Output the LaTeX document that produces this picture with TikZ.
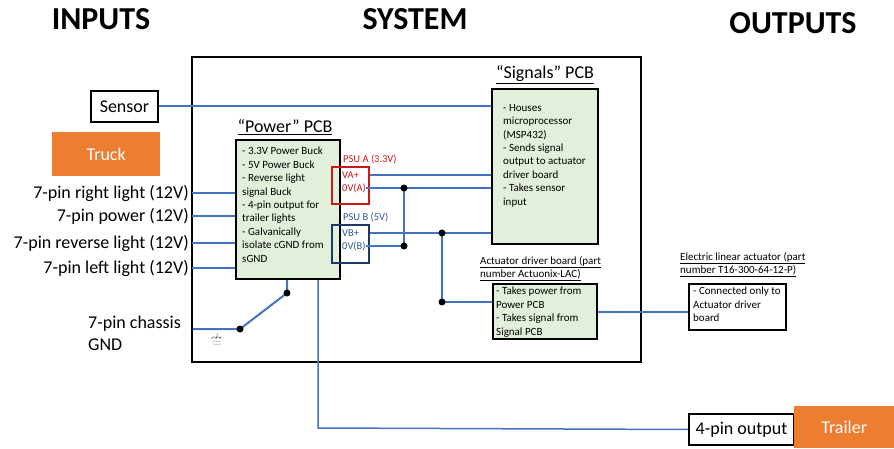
\documentclass[tikz,border=0pt]{standalone}
\usepackage{fontspec}
\setmainfont{Carlito}
\definecolor{wireblue}{HTML}{4472C4}
\definecolor{pcbgreen}{HTML}{E2EFDA}
\definecolor{boxorange}{HTML}{ED7D31}
\definecolor{psured}{HTML}{D01818}
\definecolor{psunavy}{HTML}{1F3864}
\definecolor{psutext}{HTML}{2F5597}
\begin{document}
\begin{tikzpicture}[x=1pt,y=-1pt,
  wire/.style={draw=wireblue,line width=2pt},
  thinwire/.style={draw=wireblue,line width=1.5pt},
  blackbox/.style={draw=black,line width=2pt,inner sep=0pt,anchor=north west},
  pcb/.style={blackbox,fill=pcbgreen},
  orangebox/.style={fill=boxorange,inner sep=0pt,anchor=north west,text=white,font=\fontsize{18}{21}\selectfont},
  bigtitle/.style={font=\bfseries\fontsize{32}{36}\selectfont},
  pcbtitle/.style={font=\fontsize{18}{21}\selectfont,inner sep=0pt},
  boxtext/.style={font=\fontsize{11}{13.4}\selectfont,align=left,inner sep=0pt,anchor=north west},
  smalltitle/.style={font=\fontsize{11}{13.5}\selectfont,align=left,inner sep=0pt,anchor=north west},
  inlabel/.style={font=\fontsize{18}{21}\selectfont,inner sep=0pt,anchor=east},
  psulabel/.style={font=\fontsize{10.5}{12}\selectfont,inner sep=0pt,anchor=west},
  jdot/.style={circle,fill=black,inner sep=0pt,minimum size=7pt}]
\useasboundingbox (0,0) rectangle (894,449);

% titles
\node[bigtitle] (tin) at (101,19) {INPUTS};
\node[bigtitle] (tsys) at (415,19) {SYSTEM};
\node[bigtitle] (tout) at (793,23) {OUTPUTS};

% system box
\node[blackbox,minimum width=449pt,minimum height=305pt] (sys) at (191,56) {};

% input side
\node[blackbox,minimum width=67pt,minimum height=31pt] (sensor) at (90,90) {};
\node[font=\fontsize{18}{21}\selectfont] (sensortxt) at (sensor.center) {Sensor};
\node[orangebox,minimum width=108pt,minimum height=44pt] (truck) at (52,132) {Truck};

\node[inlabel] (l1) at (189,193) {7-pin right light (12V)};
\node[inlabel] (l2) at (189,216) {7-pin power (12V)};
\node[inlabel] (l3) at (189,243) {7-pin reverse light (12V)};
\node[inlabel] (l4) at (189,268) {7-pin left light (12V)};
\node[font=\fontsize{18}{21.5}\selectfont,align=left,inner sep=0pt,anchor=north west] (chassis) at (88,316) {7-pin chassis\\GND};

% Power PCB
\node[pcb,minimum width=104pt,minimum height=139pt] (power) at (235,139) {};
\node[pcbtitle] (powertitle) at (285,127) {\underline{“Power” PCB}};
\node[boxtext] (powertxt) at (242,147) {- 3.3V Power Buck\\- 5V Power Buck\\- Reverse light\\signal Buck\\- 4-pin output for\\trailer lights\\- Galvanically\\isolate cGND from\\sGND};

% PSU boxes
\node[draw=psured,line width=2pt,inner sep=0pt,anchor=north west,minimum width=37pt,minimum height=37pt] (psua) at (331,166) {};
\node[psulabel,text=psured] (psuatitle) at (343,159) {PSU A (3.3V)};
\node[psulabel,text=psured] (va) at (342,175) {VA+};
\node[psulabel,text=psured] (oa) at (342,188) {0V(A)};
\node[draw=psunavy,line width=2pt,inner sep=0pt,anchor=north west,minimum width=37pt,minimum height=38pt] (psub) at (331,224) {};
\node[psulabel,text=psutext] (psubtitle) at (343,217) {PSU B (5V)};
\node[psulabel,text=psutext] (vb) at (342,233) {VB+};
\node[psulabel,text=psutext] (ob) at (342,246) {0V(B)};

% Signals PCB
\node[pcb,minimum width=106pt,minimum height=155pt] (signals) at (491,88) {};
\node[pcbtitle] (signalstitle) at (545,75) {\underline{“Signals” PCB}};
\node[boxtext] (signalstxt) at (503,104) {- Houses\\microprocessor\\(MSP432)\\- Sends signal\\output to actuator\\driver board\\- Takes sensor\\input};

% Actuator driver board
\node[pcb,minimum width=104pt,minimum height=55pt] (driver) at (492,283) {};
\node[smalltitle] (drivertitle) at (480,256) {\underline{Actuator driver board (part}\\\underline{number Actuonix-LAC)}};
\node[boxtext] (drivertxt) at (496,287) {- Takes power from\\Power PCB\\- Takes signal from\\Signal PCB};

% Electric linear actuator
\node[blackbox,fill=white,minimum width=97pt,minimum height=46pt] (act) at (688,283) {};
\node[smalltitle] (acttitle) at (680,252) {\underline{Electric linear actuator (part}\\\underline{number T16-300-64-12-P)}};
\node[boxtext] (acttxt) at (693,287) {- Connected only to\\Actuator driver\\board};

% outputs
\node[blackbox,fill=white,minimum width=105pt,minimum height=31pt] (fourpin) at (688,413) {};
\node[font=\fontsize{18}{21}\selectfont] (fourpintxt) at (fourpin.center) {4-pin output};
\node[orangebox,minimum width=100pt,minimum height=42pt] (trailer) at (794,406) {Trailer};

% junction coordinates
\coordinate (j1) at (404,188);
\coordinate (j2) at (404,246);
\coordinate (j3) at (442,233);
\coordinate (j4) at (442,302);
\coordinate (gs) at (193,329);
\coordinate (g1) at (240,329);
\coordinate (g2) at (287,293);
\coordinate (t1) at (318,428);

% wires
\draw[wire] (sensor.east) -- (sensor.east -| signals.west);
\foreach \n in {l1,l2,l3,l4} \draw[wire] ([xshift=3pt]\n.east) -- (\n.east -| power.west);
\draw[wire] (psua.east |- va.center) -- (va.center -| signals.west);
\draw[wire] (oa.east) -- (oa.center -| signals.west);
\draw[wire] (j1) -- (j2);
\draw[wire] (ob.east) -- (j2);
\draw[wire] (psub.east |- vb.center) -- (vb.center -| signals.west);
\draw[wire] (j3) -- (j4) -- (j4 -| driver.west);
\draw[wire] (driver.east) -- (driver.east -| act.west);
\draw[wire] (gs) -- (g1) -- (g2) -- (g2 |- power.south);
\draw[thinwire] (t1 |- power.south) -- (t1) -- (fourpin.west);

\foreach \p in {j1,j2,j3,j4,g1,g2} \node[jdot] at (\p) {};

% chassis ground symbol
\coordinate (gsym) at (217,333);
\draw[black!70,line width=0.5pt] (gsym) -- ++(0,4) ++(-4,0) -- ++(8,0)
  ++(-8,0) -- ++(-1.5,2) ++(5.5,-2) -- ++(-1.5,2) ++(5.5,-2) -- ++(-1.5,2);
\node[font=\fontsize{2.6}{3}\selectfont,text=black!50,align=center,inner sep=0pt] (gsymtxt) at (217,343) {Chassis\\Ground};
\end{tikzpicture}
\end{document}
